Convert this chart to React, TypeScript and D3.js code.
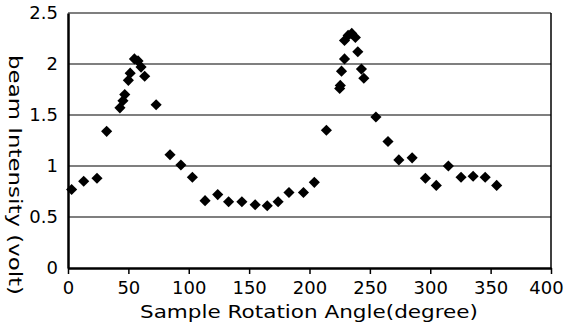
import { useEffect, useRef } from 'react'
import * as d3 from 'd3'

const angles = [3, 13, 24, 32, 43, 45.5, 47, 50, 51.5, 55, 58, 60.5, 63.5, 73, 84.5, 93.5, 103, 113.5, 124, 133, 144, 155, 165, 174, 183, 195, 204, 214, 225, 225.5, 226.5, 229, 229, 232, 235, 238, 240, 243, 245, 255, 265, 274, 285, 296, 305, 315, 325.5, 335.5, 345.5, 355]
const intensity = [0.77, 0.85, 0.88, 1.34, 1.57, 1.64, 1.7, 1.84, 1.91, 2.05, 2.03, 1.97, 1.88, 1.6, 1.11, 1.01, 0.89, 0.66, 0.72, 0.65, 0.65, 0.62, 0.61, 0.65, 0.74, 0.74, 0.84, 1.35, 1.76, 1.79, 1.93, 2.05, 2.23, 2.28, 2.3, 2.26, 2.12, 1.95, 1.86, 1.48, 1.24, 1.06, 1.08, 0.88, 0.81, 1.0, 0.89, 0.9, 0.89, 0.81]
const xTicks = [0, 50, 100, 150, 200, 250, 300, 350, 400]
const yTicks = [0, 0.5, 1, 1.5, 2, 2.5]

const W = 567
const H = 324
const FONT = '"DejaVu Sans", sans-serif'

export default function App() {
  const ref = useRef<SVGSVGElement>(null)

  useEffect(() => {
    if (!ref.current) return
    const svg = d3.select(ref.current)
    svg.selectAll('*').remove()

    const x = d3.scaleLinear().domain([0, 400]).range([68, 551])
    const y = d3.scaleLinear().domain([0, 2.5]).range([268, 13])

    // grid
    svg.append('g').selectAll('line')
      .data(yTicks.filter(t => t > 0 && t < 2.5))
      .join('line')
      .attr('x1', x(0)).attr('x2', x(400))
      .attr('y1', d => y(d)).attr('y2', d => y(d))
      .attr('stroke', '#000').attr('stroke-width', 1.2)

    // frame
    svg.append('line').attr('x1', x(0)).attr('x2', x(400)).attr('y1', y(2.5)).attr('y2', y(2.5))
      .attr('stroke', '#000').attr('stroke-width', 1.2)
    svg.append('line').attr('x1', x(400)).attr('x2', x(400)).attr('y1', y(2.5)).attr('y2', y(0))
      .attr('stroke', '#000').attr('stroke-width', 1.5)

    // x axis
    const xa = svg.append('g').attr('transform', `translate(0,${y(0)})`)
      .call(d3.axisBottom(x).tickValues(xTicks).tickSize(6).tickSizeOuter(0).tickPadding(7))
    xa.select('.domain').attr('stroke-width', 2.5)
    xa.selectAll('.tick line').attr('stroke-width', 1.5)
    xa.selectAll<SVGTextElement, number>('text')
      .attr('font-size', 18).attr('font-family', FONT).attr('fill', '#000')
      .attr('dx', d => (d === 400 ? -5 : 0))

    // y axis
    const ya = svg.append('g').attr('transform', `translate(${x(0)},0)`)
      .call(d3.axisLeft(y).tickValues(yTicks).tickSize(0).tickPadding(10).tickFormat(d => String(d)))
    ya.select('.domain').attr('stroke-width', 2.5)
    ya.selectAll('text').attr('font-size', 18).attr('font-family', FONT).attr('fill', '#000')

    // points
    svg.append('g').selectAll('path')
      .data(angles.map((a, i) => [a, intensity[i]] as [number, number]))
      .join('path')
      .attr('transform', d => `translate(${x(d[0])},${y(d[1])}) rotate(45)`)
      .attr('d', d3.symbol().type(d3.symbolSquare).size(62)() as string)
      .attr('fill', '#000')

    // titles
    svg.append('text')
      .attr('x', 309).attr('y', 318)
      .attr('text-anchor', 'middle')
      .attr('font-size', 18).attr('font-family', FONT)
      .attr('textLength', 338).attr('lengthAdjust', 'spacingAndGlyphs')
      .text('Sample Rotation Angle(degree)')
    svg.append('text')
      .attr('transform', `translate(9,175) rotate(90)`)
      .attr('text-anchor', 'middle')
      .attr('font-size', 18).attr('font-family', FONT)
      .attr('textLength', 240).attr('lengthAdjust', 'spacingAndGlyphs')
      .text('beam Intensity (volt)')
  }, [])

  return (
    <svg ref={ref} width={W} height={H}
      style={{ position: 'absolute', left: 0, top: 0, background: '#fff' }} />
  )
}
